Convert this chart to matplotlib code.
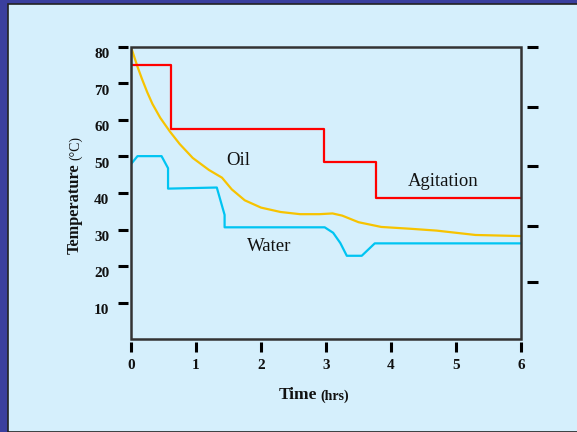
import matplotlib.pyplot as plt
from matplotlib.patches import Rectangle
import matplotlib.transforms as mtransforms

# values
oil_time = [0, 0.05, 0.1, 0.17, 0.25, 0.33, 0.45, 0.6, 0.75, 0.95, 1.2, 1.4, 1.55, 1.75, 2.0,
            2.3, 2.6, 2.9, 3.1, 3.25, 3.5, 3.85, 4.3, 4.7, 5.3, 6.0]
oil_temp = [80, 77.3, 74.6, 71.2, 67.6, 64.4, 60.6, 56.8, 53.4, 49.6, 46.3, 44.2, 41, 38, 36,
            34.8, 34.2, 34.2, 34.4, 33.8, 32, 30.7, 30.2, 29.7, 28.5, 28.2]

water_time = [0, 0.1, 0.47, 0.57, 0.57, 1.32, 1.44, 1.44, 2.98, 3.11, 3.22, 3.32, 3.55, 3.75, 6]
water_temp = [47.9, 50.1, 50.1, 46.8, 41.2, 41.5, 34.0, 30.6, 30.6, 29.1, 26.3, 22.8, 22.8, 26.2, 26.2]

agit_time = [0, 0.61, 2.97, 3.77, 6]
agit_level = [75, 57.5, 48.5, 38.6, 38.6]

x_ticks = [0, 1, 2, 3, 4, 5, 6]
y_ticks = [10, 20, 30, 40, 50, 60, 70, 80]
right_ticks = [15.5, 31, 47.5, 63.5, 80]

navy = '#3a3f9e'
bg = '#d5effc'
serif = ['Liberation Serif', 'DejaVu Serif']
plt.rcParams['font.family'] = serif

fig = plt.figure(figsize=(5.77, 4.32), dpi=100)
fig.patch.set_facecolor(navy)
fig.patches.append(Rectangle((8 / 577, 0), 1, 1 - 4 / 432, transform=fig.transFigure,
                             facecolor=bg, edgecolor='#222222', linewidth=1.2, zorder=-5))

ax = fig.add_axes([131 / 577, 1 - 339 / 432, 390 / 577, 292 / 432])
ax.set_facecolor(bg)

# detached ticks: hide spines, push them out a little, draw the frame as a patch
for s in ax.spines.values():
    s.set_visible(False)
ax.spines['left'].set_position(('outward', 2))
ax.spines['bottom'].set_position(('outward', 2.5))
ax.add_patch(Rectangle((0, 0), 1, 1, transform=ax.transAxes, fill=False,
                       edgecolor='#333333', linewidth=1.8, clip_on=False, zorder=5))

ax.plot(oil_time, oil_temp, color='#f7c300', linewidth=1.6)
ax.plot(water_time, water_temp, color='#00c4f2', linewidth=1.6)
ax.step(agit_time, agit_level, where='post', color='#ff0000', linewidth=1.6)

ax.set_xlim(0, 6)
ax.set_ylim(0, 80)
ax.set_xticks(x_ticks)
ax.set_yticks(y_ticks)
ax.set_xticklabels([str(v) for v in x_ticks], fontweight='bold', fontsize=11)
ax.set_yticklabels([str(v) for v in y_ticks], fontweight='bold', fontsize=11)
ax.tick_params(axis='both', direction='out', length=7.5, width=2.2, color='black', pad=6,
               labelcolor='#111111')
ax.tick_params(axis='x', pad=4.5)

off = mtransforms.ScaledTranslation(0, -4.5 / 72, fig.dpi_scale_trans)
for lab in ax.get_yticklabels():
    lab.set_transform(lab.get_transform() + off)

ax2 = ax.twinx()
for s in ax2.spines.values():
    s.set_visible(False)
ax2.spines['right'].set_position(('outward', 4))
ax2.set_ylim(0, 80)
ax2.set_yticks(right_ticks)
ax2.set_yticklabels([])
ax2.tick_params(axis='y', direction='out', length=8, width=2.2, color='black')

ax.text(1.65, 49, 'Oil', fontsize=13.5, ha='center', va='center', color='#111111')
ax.text(2.12, 25.3, 'Water', fontsize=13.5, ha='center', va='center', color='#111111')
ax.text(4.8, 43.2, 'Agitation', fontsize=13.5, ha='center', va='center', color='#111111')

fig.text(317 / 577, 1 - 395 / 432, 'Time', fontweight='bold', fontsize=12.5,
         ha='right', va='center', color='#111111')
fig.text(320 / 577, 1 - 396 / 432, '(hrs)', fontweight='bold', fontsize=10,
         ha='left', va='center', color='#111111')
fig.text(75 / 577, 1 - 209 / 432, 'Temperature', fontweight='bold', fontsize=11.8,
         rotation=90, ha='center', va='center', color='#111111')
fig.text(76 / 577, 1 - 148 / 432, '(°C)', fontsize=10,
         rotation=90, ha='center', va='center', color='#111111')

fig.savefig('out.png', dpi=100, facecolor=fig.get_facecolor())
